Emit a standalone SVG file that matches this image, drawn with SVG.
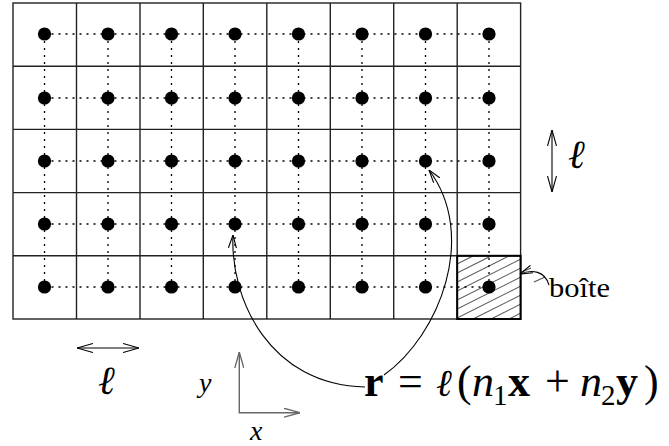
<svg xmlns="http://www.w3.org/2000/svg" width="669" height="446" viewBox="0 0 669 446">
<style>
.grid{fill:none;stroke:#222;stroke-width:1.4}
.dotl{fill:none;stroke:#000;stroke-width:1.3;stroke-dasharray:2 5}
.pt{fill:#000}
.hatch{stroke:#555;stroke-width:1.1}
.con{fill:none;stroke:#000;stroke-width:1.1}
.axis{fill:none;stroke:#666;stroke-width:1.4}
.t{font-family:"Liberation Serif","Times New Roman",serif;fill:#000}
.ell{font-family:"DejaVu Serif",serif;font-style:italic}
</style>
<defs>
<marker id="arr" viewBox="0 0 16 10" refX="16" refY="5" markerWidth="16" markerHeight="10" markerUnits="userSpaceOnUse" orient="auto-start-reverse">
<path d="M0,0.5 L16,5 L0,9.5" fill="none" stroke="#000" stroke-width="1.1"/>
</marker>
<marker id="arrg" viewBox="0 0 16 10" refX="16" refY="5" markerWidth="16" markerHeight="10" markerUnits="userSpaceOnUse" orient="auto-start-reverse">
<path d="M0,0.5 L16,5 L0,9.5" fill="none" stroke="#666" stroke-width="1.3"/>
</marker>
<marker id="arrs" viewBox="0 0 13 9" refX="13" refY="4.5" markerWidth="13" markerHeight="9" markerUnits="userSpaceOnUse" orient="auto">
<path d="M0,0.5 L13,4.5 L0,8.5" fill="none" stroke="#000" stroke-width="1.1"/>
</marker>
<clipPath id="boxclip"><rect x="457.2" y="255.8" width="63.4" height="63.2"/></clipPath>
</defs>

<g id="grid" class="grid">
<rect x="13" y="3" width="507.6" height="316"/>
<path d="M76.5,3V319M140,3V319M203.3,3V319M266.8,3V319M330.3,3V319M393.7,3V319M457.2,3V319"/>
<path d="M13,66.2H520.6M13,129.4H520.6M13,192.6H520.6M13,255.8H520.6"/>
</g>

<g id="boite">
<g clip-path="url(#boxclip)" class="hatch">
<path d="M457,264L521,232M457,273L521,241M457,282L521,250M457,291L521,259M457,300L521,268M457,309L521,277M457,318L521,286M457,327L521,295M457,336L521,304M457,345L521,313M457,354L521,322"/>
</g>
<path class="hatch" d="M522,272L531,268M534,282L545,277"/>
<rect x="457.2" y="255.8" width="63.4" height="63.2" fill="none" stroke="#000" stroke-width="2"/>
</g>

<g id="lattice-lines" class="dotl">
<path d="M44.5,34H489M44.5,98H489M44.5,161H489M44.5,224H489M44.5,287H489"/>
<path d="M44.5,34V287M108,34V287M171.5,34V287M235,34V287M298.5,34V287M362,34V287M425.5,34V287M489,34V287"/>
</g>

<g id="lattice-points" class="pt">
<circle cx="44.5" cy="34" r="6.6"/><circle cx="108" cy="34" r="6.6"/><circle cx="171.5" cy="34" r="6.6"/><circle cx="235" cy="34" r="6.6"/><circle cx="298.5" cy="34" r="6.6"/><circle cx="362" cy="34" r="6.6"/><circle cx="425.5" cy="34" r="6.6"/><circle cx="489" cy="34" r="6.6"/>
<circle cx="44.5" cy="98" r="6.6"/><circle cx="108" cy="98" r="6.6"/><circle cx="171.5" cy="98" r="6.6"/><circle cx="235" cy="98" r="6.6"/><circle cx="298.5" cy="98" r="6.6"/><circle cx="362" cy="98" r="6.6"/><circle cx="425.5" cy="98" r="6.6"/><circle cx="489" cy="98" r="6.6"/>
<circle cx="44.5" cy="161" r="6.6"/><circle cx="108" cy="161" r="6.6"/><circle cx="171.5" cy="161" r="6.6"/><circle cx="235" cy="161" r="6.6"/><circle cx="298.5" cy="161" r="6.6"/><circle cx="362" cy="161" r="6.6"/><circle cx="425.5" cy="161" r="6.6"/><circle cx="489" cy="161" r="6.6"/>
<circle cx="44.5" cy="224" r="6.6"/><circle cx="108" cy="224" r="6.6"/><circle cx="171.5" cy="224" r="6.6"/><circle cx="235" cy="224" r="6.6"/><circle cx="298.5" cy="224" r="6.6"/><circle cx="362" cy="224" r="6.6"/><circle cx="425.5" cy="224" r="6.6"/><circle cx="489" cy="224" r="6.6"/>
<circle cx="44.5" cy="287" r="6.6"/><circle cx="108" cy="287" r="6.6"/><circle cx="171.5" cy="287" r="6.6"/><circle cx="235" cy="287" r="6.6"/><circle cx="298.5" cy="287" r="6.6"/><circle cx="362" cy="287" r="6.6"/><circle cx="425.5" cy="287" r="6.6"/><circle cx="489" cy="287" r="6.6"/>
</g>

<g id="connectors">
<path class="con" d="M365,387C270,385 230,300 233,235" marker-end="url(#arrs)"/>
<path class="con" d="M384,375C440,335 478,235 429,170" marker-end="url(#arrs)"/>
<path class="con" d="M549,285C545,271 532,269 520,274" marker-end="url(#arrs)"/>
</g>

<g id="label-boite">
<text class="t" x="549" y="297" font-size="28" textLength="61" lengthAdjust="spacingAndGlyphs">boîte</text>
</g>

<g id="scale-h">
<path class="con" d="M77,348H139" marker-start="url(#arr)" marker-end="url(#arr)"/>
<text class="t ell" x="98" y="394" font-size="40">ℓ</text>
</g>

<g id="scale-v">
<path class="con" d="M552,130V192" marker-start="url(#arr)" marker-end="url(#arr)"/>
<text class="t ell" x="568" y="168" font-size="40">ℓ</text>
</g>

<g id="axes">
<path class="axis" d="M239.3,352V412.7H300" marker-start="url(#arrg)" marker-end="url(#arrg)"/>
<text class="t" x="199" y="392" font-size="28" font-style="italic">y</text>
<text class="t" x="250" y="440" font-size="28" font-style="italic">x</text>
</g>

<g id="formula">
<text class="t" y="396" font-size="44"><tspan x="364" font-weight="bold">r</tspan><tspan x="398">=</tspan><tspan x="436" class="ell" font-size="38">ℓ</tspan><tspan x="457">(</tspan><tspan x="472" font-style="italic">n</tspan><tspan x="493" dy="9" font-size="29">1</tspan><tspan x="508" dy="-9" font-weight="bold">x</tspan><tspan x="545">+</tspan><tspan x="580" font-style="italic">n</tspan><tspan x="601" dy="9" font-size="29">2</tspan><tspan x="616" dy="-9" font-weight="bold">y</tspan><tspan x="644">)</tspan></text>
</g>
</svg>
